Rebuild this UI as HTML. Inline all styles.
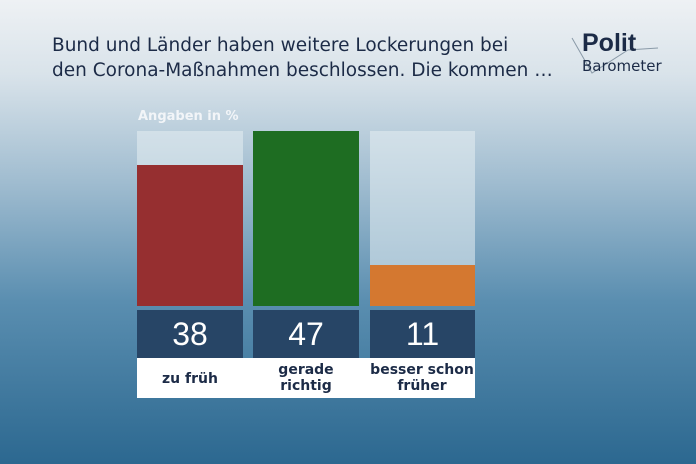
<!DOCTYPE html>
<html><head><style>
body{margin:0;width:696px;height:464px;overflow:hidden;font-family:"DejaVu Sans","Liberation Sans",sans-serif;}
#bg{position:absolute;left:0;top:0;width:696px;height:464px;background:linear-gradient(to bottom,#eef1f4 0%,#d9e3ea 16%,#9ebbcf 40%,#5a8eb0 65%,#2c6890 100%);}
.t{position:absolute;color:#1c2b47;font-size:18.5px;}
.a{position:absolute;}
.v{position:absolute;top:310px;height:48px;background:#274566;color:#fff;font:32px 'Liberation Sans',sans-serif;text-align:center;line-height:48px}
.l{position:absolute;text-align:center;color:#1c2b47;font-size:14px;font-weight:bold;line-height:16px;white-space:nowrap}
</style></head><body>
<div id="bg"></div>
<div class="t" style="left:52px;top:35px;">Bund und Länder haben weitere Lockerungen bei</div>
<div class="t" style="left:52px;top:60px;">den Corona-Maßnahmen beschlossen. Die kommen …</div>
<svg class="a" style="left:560px;top:28px" width="120" height="52">
<polyline points="12,10 32,45 68,22 98,20" fill="none" stroke="#8a9aa8" stroke-width="1"/>
<text x="22" y="23" font-family="Liberation Sans" font-weight="bold" font-size="25" fill="#1c2b47">Polit</text>
<text x="22" y="43" font-family="DejaVu Sans" font-size="15" fill="#1c2b47">Barometer</text>
</svg>
<div class="a" style="left:138px;top:109px;color:#f2f5f8;font-size:13px;font-weight:bold;">Angaben in %</div>
<div class="a" style="left:137px;top:131px;width:106px;height:175px;background:rgba(230,238,243,0.55)"></div>
<div class="a" style="left:370px;top:131px;width:105px;height:175px;background:rgba(230,238,243,0.55)"></div>
<div class="a" style="left:137px;top:165px;width:106px;height:141px;background:#962f30"></div>
<div class="a" style="left:253px;top:131px;width:106px;height:175px;background:#1e6d22"></div>
<div class="a" style="left:370px;top:265px;width:105px;height:41px;background:#d47830"></div>
<div class="v" style="left:137px;width:106px">38</div>
<div class="v" style="left:253px;width:106px">47</div>
<div class="v" style="left:370px;width:105px">11</div>
<div class="a" style="left:137px;top:358px;width:338px;height:40px;background:#fff"></div>
<div class="l" style="left:137px;top:371px;width:106px">zu früh</div>
<div class="l" style="left:253px;top:362px;width:106px">gerade<br>richtig</div>
<div class="l" style="left:366px;top:362px;width:112px">besser schon<br>früher</div>
</body></html>
